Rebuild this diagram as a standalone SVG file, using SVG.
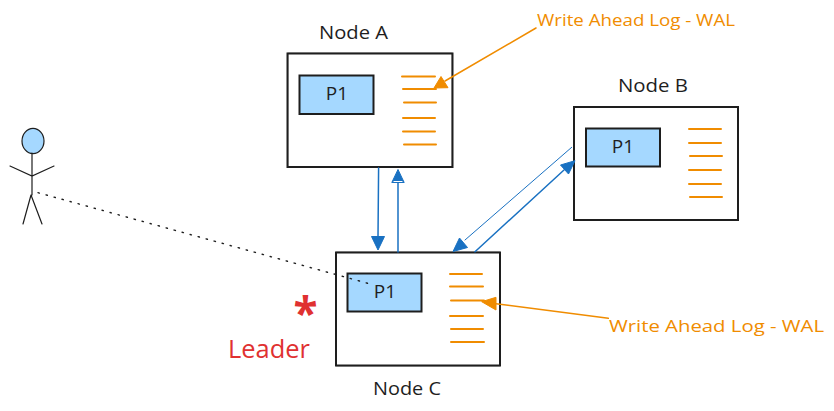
<svg xmlns="http://www.w3.org/2000/svg" width="834" height="411" viewBox="0 0 834 411">
  <style>
    text { font-family: "Open Sans", "Noto Sans", sans-serif; }
    .box { fill: #fff; stroke: #1e1e1e; stroke-width: 2; }
    .box2 { fill: none; stroke: #1e1e1e; stroke-width: 1; opacity: .45; }
    .part { fill: #a5d8ff; stroke: #1e1e1e; stroke-width: 2; }
    .log { stroke: #f08c00; stroke-width: 2; fill: none; stroke-linecap: round; }
    .label { font-size: 19px; fill: #1e1e1e; text-anchor: middle; }
    .pid { font-size: 19px; fill: #1e1e1e; text-anchor: middle; }
    .note { font-size: 17px; fill: #f08c00; }
    .blue { stroke: #1971c2; fill: none; stroke-linecap: round; }
    .bluehead { fill: #1971c2; stroke: #1971c2; stroke-width: 1; stroke-linejoin: round; }
    .orange { stroke: #f08c00; fill: none; stroke-linecap: round; }
    .orangehead { fill: #f08c00; stroke: #f08c00; stroke-width: 1; stroke-linejoin: round; }
    .figure { stroke: #1e1e1e; stroke-width: 1.2; fill: none; stroke-linecap: round; }
  </style>
  <rect width="834" height="411" fill="#fff"/>

  <g id="node-a">
    <rect class="box" x="287.5" y="53.5" width="165" height="113.5"/>
    <rect class="box2" x="288" y="53" width="164" height="114"/>
    <rect class="part" x="299.5" y="75.5" width="74" height="38.5"/>
    <path class="log" d="M402 76.5H435M403 89H436M404 102.5H436M403 118H435M403 131.5H435M404 144.5H436"/>
    <text class="pid" x="337" y="100">P1</text>
    <text class="label" x="353.5" y="39" textLength="69" lengthAdjust="spacingAndGlyphs">Node A</text>
  </g>

  <g id="node-b">
    <rect class="box" x="574" y="107" width="164" height="113"/>
    <rect class="box2" x="574.5" y="106.5" width="163" height="114"/>
    <rect class="part" x="586" y="128.5" width="74" height="38"/>
    <path class="log" d="M689 129H721M689 143H721M690 156H722M689 170H721M689 184H721M690 197H722"/>
    <text class="pid" x="623" y="153">P1</text>
    <text class="label" x="653" y="92" textLength="70" lengthAdjust="spacingAndGlyphs">Node B</text>
  </g>

  <g id="node-c">
    <rect class="box" x="336" y="252.5" width="164" height="113"/>
    <rect class="box2" x="336.5" y="252" width="163" height="114"/>
    <rect class="part" x="347.5" y="273.5" width="74" height="38"/>
    <path class="log" d="M450 274H482M450 286.5H483M451 300.5H484M450 316H483M451 329H483M451 342H484"/>
    <text class="pid" x="385" y="298">P1</text>
    <text class="label" x="407" y="395" textLength="68" lengthAdjust="spacingAndGlyphs">Node C</text>
  </g>

  <g id="client">
    <ellipse cx="33" cy="141" rx="11" ry="12.7" fill="#a5d8ff" stroke="#1e1e1e" stroke-width="1.2"/>
    <path class="figure" d="M32 153L32 195M10 166L32 176L54 166M31 195L23 224M31 195L42 224"/>
  </g>

  <g id="leader-mark">
    <text x="305.5" y="329" font-size="44" font-weight="700" fill="#e03131" text-anchor="middle">*</text>
    <text x="228" y="358" font-size="26" fill="#e03131" textLength="82" lengthAdjust="spacingAndGlyphs">Leader</text>
  </g>

  <g id="wal-note-a">
    <text class="note" x="537" y="26" textLength="198" lengthAdjust="spacingAndGlyphs">Write Ahead Log - WAL</text>
  </g>
  <g id="wal-note-c">
    <text class="note" x="609" y="332" textLength="215" lengthAdjust="spacingAndGlyphs">Write Ahead Log - WAL</text>
  </g>

  <g id="connectors">
    <path class="blue" stroke-width="1.5" d="M378.6 168L378 238"/>
    <path class="bluehead" d="M378 250L371.5 236.5H384.5Z"/>
    <path class="blue" stroke-width="1.5" d="M398 252L398 182"/>
    <path class="bluehead" d="M398 169.5L391.8 182.5H404.2Z"/>
    <path d="M393.5 181.5H402.5" stroke="#fff" stroke-width="1" fill="none"/>
    <path class="blue" stroke-width="1" d="M571.7 147.3L465 240"/>
    <path class="bluehead" d="M453 251.5L459.5 238L467.5 247.5Z"/>
    <path class="blue" stroke-width="1.5" d="M475 251.7L564 170"/>
    <path class="bluehead" d="M575 160.7L568.5 174L560.5 165Z"/>
    <path class="orange" stroke-width="1.5" d="M536 28L445 81"/>
    <path class="orangehead" d="M434 88L441 76.5L448 87.7Z"/>
    <path class="orange" stroke-width="1.5" d="M608.3 318.3L494 303.5"/>
    <path class="orangehead" d="M481.7 301.7L496 297.3V310Z"/>
    <path d="M38 192.7L374 285" stroke="#1e1e1e" stroke-width="1.4" stroke-dasharray="1.4 6.9" stroke-linecap="round" fill="none"/>
  </g>
</svg>
